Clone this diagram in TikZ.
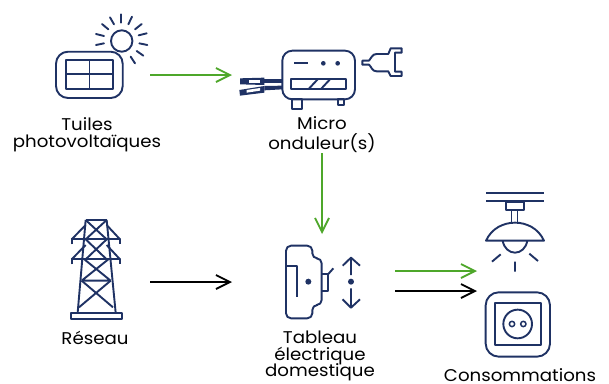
\documentclass[tikz,border=0pt]{standalone}
\usepackage{fontspec}
\setmainfont[FakeStretch=1.07]{Poppins}
\usetikzlibrary{arrows.meta}
\definecolor{navy}{HTML}{1F3264}
\definecolor{grn}{HTML}{4EA72A}
\tikzset{
  icon/.style={draw=navy,line width=1.9pt,line join=round},
  thinicon/.style={draw=navy,line width=1.5pt,line join=round},
  flow/.style={line width=1.7pt,-{Straight Barb[length=14pt,width=14pt,line width=1.8pt]}},
  greenflow/.style={flow,draw=grn},
  blackflow/.style={flow,draw=black},
  lab/.style={font=\fontsize{17}{18}\selectfont,text=black,align=center,inner sep=0pt,anchor=center}
}
\begin{document}
\begin{tikzpicture}[x=1pt,y=-1pt]
\useasboundingbox (0,0) rectangle (609,383);
\fill[white] (0,0) rectangle (609,383);
% coordinates for connectors
\coordinate (panelout) at (150,75);
\coordinate (microin) at (232,75);
\coordinate (microout) at (322,153);
\coordinate (boardin) at (322,234);
\coordinate (gridout) at (150,282);
\coordinate (boardgrid) at (232,282);
\coordinate (boardoutA) at (395,271);
\coordinate (loadA) at (477,271);
\coordinate (boardoutB) at (395,291);
\coordinate (loadB) at (477,291);
% solar panel
\draw[icon,rounded corners=12pt] (56,51.7) rectangle (122.7,98);
\draw[icon] (66,60) rectangle (112.7,89);
\draw[thinicon] (89.3,60) -- (89.3,89) (66,74) -- (112.7,74);
% sun
\fill[white] (121.7,41) circle (10.7);
\draw[icon] (121.7,41) circle (10.7);
\foreach \a/\b/\c/\d in {243/43/243/68,210/52/222/73,276/50/265/73,186/72/205/88,305/72/285/88,168/102/192/108,320/100/296/106,168/135/192/130,322/135/298/130,290/153/310/167,272/170/285/190}
  \draw[icon,line cap=round] ({40+\a/3},{\b/3}) -- ({40+\c/3},{\d/3});
% micro inverter
\begin{scope}[shift={(225,30)},x=0.3333pt,y=-0.3333pt]
\draw[icon,rounded corners=10pt] (172,62) rectangle (390,208);
\draw[icon] (208,100) -- (248,100);
\fill[navy] (295,100) circle (7) (338,100) circle (7);
\draw[icon] (198,148) rectangle (362,178);
\draw[icon] (250,178) -- (278,148) (287,178) -- (315,148);
\draw[icon] (200,208) rectangle (232,238);
\draw[icon] (340,208) rectangle (358,224);
% cables
\fill[navy] (118,147) rectangle (172,160);
\fill[navy] (118,168) -- (172,167) -- (172,178) -- (118,181) -- cycle;
\fill[navy] (45,145) -- (118,143) -- (118,165) -- (45,163) -- cycle;
\fill[white] (72,150) rectangle (105,158);
\fill[navy] (43,180) -- (118,168) -- (118,188) -- (45,197) -- cycle;
\fill[white] (65,180) -- (105,174) -- (105,182) -- (65,188) -- cycle;
% plug
\draw[icon] (412,92) -- (432,92) .. controls (440,85) and (440,72) .. (455,72) -- (490,72) -- (497,55) -- (530,55) -- (530,68) -- (510,68) -- (510,125) -- (530,125) -- (530,138) -- (497,138) -- (490,124) -- (455,124) .. controls (440,124) and (440,110) .. (432,104) -- (412,104) -- cycle;
\end{scope}
% pylon
\begin{scope}[shift={(55,210)},x=0.3333pt,y=-0.3333pt]
\draw[icon] (92,30) -- (155,30);
\draw[icon] (92,30) -- (68,308) (155,30) -- (182,308);
\draw[icon] (50,103) -- (50,88) -- (195,88) -- (195,103);
\draw[icon] (50,163) -- (50,148) -- (195,148) -- (195,163);
\draw[icon] (92,45) -- (50,88) (155,45) -- (195,88) (92,105) -- (50,148) (155,105) -- (195,148);
\draw[icon] (92,30) -- (155,88) (155,30) -- (92,88);
\draw[icon] (92,88) -- (155,148) (155,88) -- (92,148);
\draw[icon] (88,148) -- (167,212) (160,148) -- (80,212) (80,212) -- (167,212);
\draw[icon] (80,212) -- (174,292) (167,212) -- (72,292);
\draw[icon] (48,308) rectangle (200,326);
\end{scope}
% board
\begin{scope}[shift={(270,235)},x=0.3333pt,y=-0.3333pt]
\draw[icon,rounded corners=5pt] (48,32) -- (127,32) -- (127,70) -- (155,70) -- (155,210) -- (127,210) -- (127,250) -- (48,250) -- cycle;
\draw[icon] (48,92) -- (82,92) -- (82,185);
\fill[navy] (115,140) circle (9);
\draw[icon] (155,117) -- (175,117) -- (175,167) -- (155,167);
\draw[icon] (175,117) -- (190,100);
\draw[icon] (243,68) -- (243,120) (218,92) -- (243,68) -- (270,92);
\fill[navy] (243,140) circle (9);
\draw[icon] (243,160) -- (243,218) (218,193) -- (243,218) -- (270,193);
\end{scope}
% lamp and socket
\begin{scope}[shift={(470,185)},x=0.3333pt,y=-0.3333pt]
\draw[icon] (48,25) -- (222,25) (48,48) -- (222,48);
\draw[icon] (108,50) rectangle (162,75);
\draw[thinicon] (125,75) -- (125,115) (143,75) -- (143,115);
\draw[icon] (48,167) -- (222,167) .. controls (205,130) and (170,113) .. (135,113) .. controls (100,113) and (65,130) .. (48,167) -- cycle;
\draw[icon] (98,167) .. controls (102,190) and (118,203) .. (135,203) .. controls (152,203) and (168,190) .. (172,167);
\draw[icon] (66,230) -- (92,208) (204,228) -- (178,206) (135,230) -- (135,260);
\draw[icon,rounded corners=13pt] (47,322) rectangle (240,515);
\draw[icon] (75,353) rectangle (213,480);
\draw[icon] (143,417) circle (43);
\draw[thinicon] (126,417) circle (8) (160,417) circle (8);
\end{scope}
% connectors
\draw[greenflow] (panelout) -- (microin);
\draw[greenflow] (microout) -- (boardin);
\draw[blackflow] (gridout) -- (boardgrid);
\draw[greenflow] (boardoutA) -- (loadA);
\draw[blackflow] (boardoutB) -- (loadB);
% labels
\node[lab] (l1) at (87,124) {Tuiles};
\node[lab] (l2) at (87,143.5) {photovoltaïques};
\node[lab] (l3) at (322,123) {Micro};
\node[lab] (l4) at (322,143) {onduleur(s)};
\node[lab] (l5) at (95,338) {Réseau};
\node[lab] (l6) at (320,337) {Tableau};
\node[lab] (l7) at (320,356) {électrique};
\node[lab] (l8) at (320,372.5) {domestique};
\node[lab] (l9) at (520,375) {Consommations};
\end{tikzpicture}
\end{document}
